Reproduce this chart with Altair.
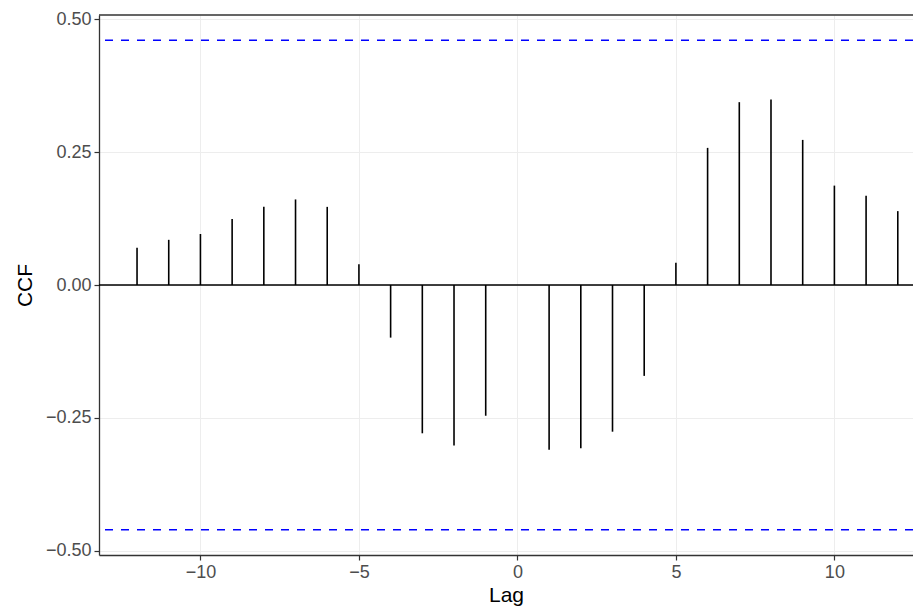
import altair as alt
import pandas as pd

lags = list(range(-12, 13))
ccf_values = [0.070, 0.085, 0.096, 0.124, 0.147, 0.161, 0.147, 0.039,
              -0.099, -0.279, -0.302, -0.246, 0.0,
              -0.310, -0.307, -0.276, -0.171,
              0.042, 0.258, 0.344, 0.349, 0.273, 0.187, 0.168, 0.139]
conf_limits = [0.4605, -0.4605]
zero_line = [0.0]
x_ticks = [-10, -5, 0, 5, 10]
y_ticks = [-0.50, -0.25, 0.00, 0.25, 0.50]

df = pd.DataFrame({"lag": lags, "ccf": ccf_values})
conf_df = pd.DataFrame({"y": conf_limits})
zero_df = pd.DataFrame({"y": zero_line})

PLOT_W = 814
PLOT_H = 540

xscale = alt.Scale(domain=[-13.2, 12.48], nice=False, zero=False)
yscale = alt.Scale(domain=[-0.508, 0.508], nice=False, zero=False)

xaxis = alt.Axis(values=x_ticks, format="d", title="Lag", grid=True, titlePadding=3)
yaxis = alt.Axis(values=y_ticks, format=".2f", title="CCF", grid=True, titlePadding=10)

stems = alt.Chart(df).mark_rule(color="black", strokeWidth=1.6).encode(
    x=alt.X("lag:Q", scale=xscale, axis=xaxis),
    y=alt.Y("ccf:Q", scale=yscale, axis=yaxis),
    y2=alt.datum(0),
)

zero = alt.Chart(zero_df).mark_rule(color="black", strokeWidth=1.6).encode(
    y=alt.Y("y:Q", scale=yscale)
)

conf = alt.Chart(conf_df).mark_rule(
    color="#0000ff", strokeWidth=1.6, strokeDash=[8, 8]
).encode(y=alt.Y("y:Q", scale=yscale))

top_border = alt.Chart(zero_df).mark_rule(color="#333333", strokeWidth=1.5).encode(
    x=alt.value(0), x2=alt.value(PLOT_W), y=alt.value(0)
)

chart = (
    alt.layer(zero, conf, stems, top_border)
    .properties(
        width=PLOT_W,
        height=PLOT_H,
        autosize=alt.AutoSizeParams(type="none"),
        padding={"left": 91, "top": 7, "right": 0, "bottom": 54},
    )
    .configure_view(stroke=None)
    .configure_axis(
        domainColor="#333333",
        domainWidth=1.3,
        tickColor="#333333",
        tickWidth=1.2,
        tickSize=5,
        labelColor="#4d4d4d",
        labelFont="Liberation Sans",
        labelFontSize=18,
        labelPadding=3,
        titleFont="Liberation Sans",
        titleFontSize=21,
        titleFontWeight="normal",
        titleColor="black",
        gridColor="#ededed",
        gridWidth=1,
    )
)

chart.save("out.html", embed_options={"renderer": "svg", "actions": False})
